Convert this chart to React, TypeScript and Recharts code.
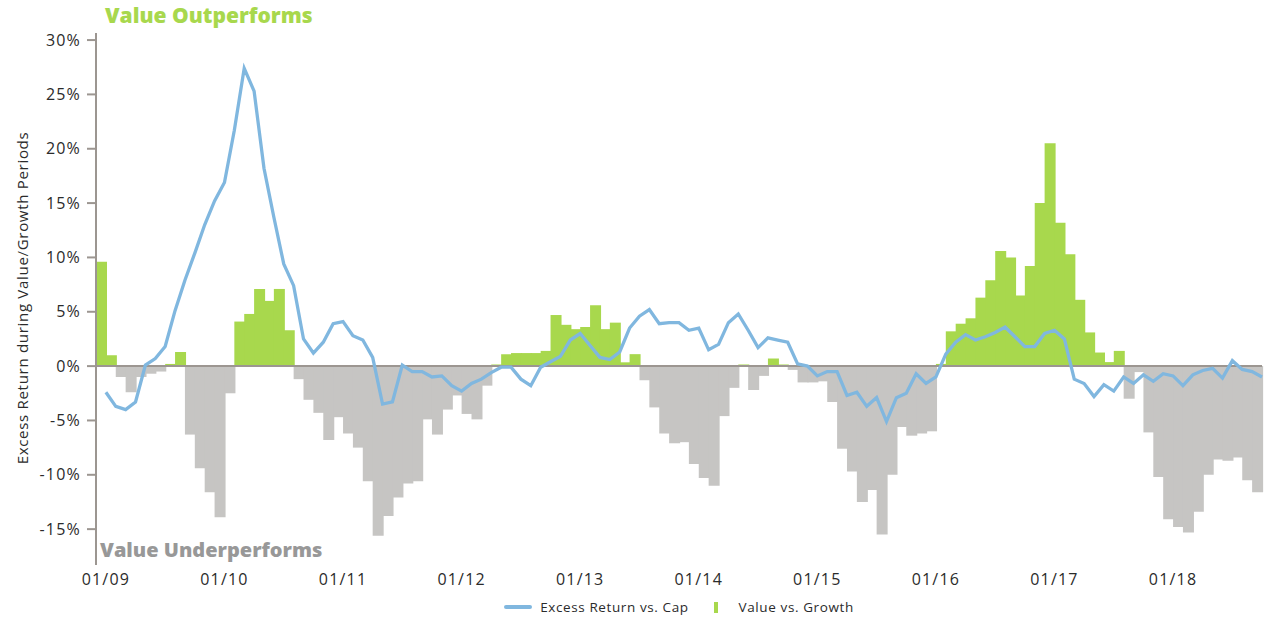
import React from "react";
import {
  ComposedChart,
  Bar,
  Line,
  XAxis,
  YAxis,
  ReferenceLine,
  Legend,
  Cell,
  Rectangle,
} from "recharts";

// monthly, 01/09 .. 10/18
const years = ["09", "10", "11", "12", "13", "14", "15", "16", "17", "18"];

// Value vs. Growth (bars), %
const valueVsGrowth = [
  9.6, 1.0, -1.0, -2.4, -1.0, -0.7, -0.5, 0.2, 1.3, -6.3, -9.4, -11.6, // 2009
  -13.9, -2.5, 4.1, 4.8, 7.1, 6.0, 7.1, 3.3, -1.2, -3.1, -4.3, -6.8, // 2010
  -4.7, -6.2, -7.5, -10.6, -15.6, -13.8, -12.1, -10.8, -10.6, -4.9, -6.3, -4.0, // 2011
  -2.7, -4.4, -4.9, -1.8, 0.15, 1.1, 1.2, 1.2, 1.2, 1.4, 4.7, 3.8, // 2012
  3.4, 3.6, 5.6, 3.4, 4.0, 0.35, 1.1, -1.3, -3.8, -6.2, -7.1, -7.0, // 2013
  -9.0, -10.3, -11.0, -4.6, -2.0, 0.15, -2.2, -0.9, 0.7, 0.15, -0.35, -1.5, // 2014
  -1.5, -1.4, -3.3, -7.6, -9.7, -12.5, -11.4, -15.5, -10.0, -5.6, -6.4, -6.2, // 2015
  -6.0, 0.2, 3.2, 3.9, 4.4, 6.3, 7.9, 10.6, 10.0, 6.5, 9.2, 15.0, // 2016
  20.5, 13.2, 10.3, 6.1, 3.1, 1.25, 0.37, 1.4, -3.0, -0.55, -6.1, -10.2, // 2017
  -14.1, -14.8, -15.3, -13.4, -10.0, -8.6, -8.7, -8.4, -10.5, -11.6, // 2018
];

// Excess Return vs. Cap (line), %
const excessReturn = [
  -2.4, -3.7, -4.0, -3.3, 0.1, 0.7, 1.8, 5.1, 7.9, 10.4, 13.0, 15.2, // 2009
  16.9, 21.7, 27.4, 25.3, 18.2, 13.7, 9.4, 7.4, 2.5, 1.2, 2.2, 3.9, // 2010
  4.1, 2.8, 2.4, 0.8, -3.5, -3.3, 0.1, -0.5, -0.5, -1.0, -0.9, -1.8, // 2011
  -2.3, -1.6, -1.2, -0.6, -0.1, -0.1, -1.2, -1.8, -0.1, 0.4, 0.9, 2.4, // 2012
  3.0, 1.9, 0.8, 0.6, 1.3, 3.5, 4.6, 5.2, 3.9, 4.0, 4.0, 3.3, // 2013
  3.5, 1.5, 2.0, 4.0, 4.8, 3.3, 1.7, 2.6, 2.4, 2.2, 0.2, 0.0, // 2014
  -0.9, -0.5, -0.5, -2.7, -2.4, -3.7, -2.9, -5.1, -2.9, -2.5, -0.7, -1.6, // 2015
  -1.0, 1.1, 2.2, 2.9, 2.4, 2.7, 3.1, 3.6, 2.7, 1.8, 1.8, 3.0, // 2016
  3.3, 2.5, -1.2, -1.6, -2.8, -1.7, -2.3, -1.0, -1.6, -0.8, -1.4, -0.7, // 2017
  -0.9, -1.8, -0.8, -0.4, -0.2, -1.1, 0.5, -0.3, -0.5, -1.0, // 2018
];

const yTicks = [-15, -10, -5, 0, 5, 10, 15, 20, 25, 30];
const xTickLabels = ["01/09", "01/10", "01/11", "01/12", "01/13", "01/14", "01/15", "01/16", "01/17", "01/18"];

const GREEN = "#a8d84d";
const GRAY = "#c6c5c3";
const BLUE = "#80b7df";
const AXIS = "#9c9691";
const TEXT = "#2b2b2b";
const FONT = "'Open Sans', sans-serif";

const data = valueVsGrowth.map((vg, i) => ({
  month: `${String((i % 12) + 1).padStart(2, "0")}/${years[Math.floor(i / 12)]}`,
  pos: i + 1,
  vg,
  er: excessReturn[i],
}));

const xTicks = xTickLabels.map((_, k) => k * 12 + 1);

// bars touch each other in the original, so widen each one a hair
const BarShape = (props: any) => <Rectangle {...props} width={props.width + 1} />;

const tickStyle = { fontSize: 16, fill: TEXT, fontFamily: FONT, letterSpacing: 1.2 };

function LegendContent() {
  return (
    <div
      style={{
        display: "flex",
        justifyContent: "center",
        alignItems: "center",
        height: 20,
        fontFamily: FONT,
        fontSize: 13.5,
        letterSpacing: 0.6,
        color: TEXT,
      }}
    >
      <span style={{ width: 28, height: 4, borderRadius: 2, background: BLUE, marginRight: 8 }} />
      <span>Excess Return vs. Cap</span>
      <span style={{ width: 4, height: 11, background: GREEN, marginLeft: 25, marginRight: 21 }} />
      <span>Value vs. Growth</span>
    </div>
  );
}

export default function App() {
  return (
    <div style={{ position: "absolute", left: 0, top: 0, width: 1268, height: 617, background: "#fff" }}>
      <ComposedChart
        width={1268}
        height={617}
        data={data}
        margin={{ top: 33, right: 6, left: 0, bottom: 0 }}
        barCategoryGap={0}
        barGap={0}
      >
        <XAxis xAxisId="cat" dataKey="month" type="category" hide height={0} />
        <XAxis
          xAxisId="num"
          dataKey="pos"
          type="number"
          domain={[0, valueVsGrowth.length]}
          ticks={xTicks}
          interval={0}
          tickFormatter={(v: number) => data[v - 1].month}
          axisLine={false}
          tickLine={false}
          tickSize={0}
          tickMargin={9}
          height={32}
          tick={tickStyle}
        />
        <YAxis
          domain={[-18.3, 30.65]}
          ticks={yTicks}
          interval={0}
          allowDataOverflow
          tickFormatter={(v: number) => `${v}%`}
          width={96}
          tickSize={9}
          tickMargin={6}
          axisLine={{ stroke: AXIS, strokeWidth: 2 }}
          tickLine={{ stroke: AXIS, strokeWidth: 2 }}
          tick={tickStyle}
        />
        <Bar xAxisId="cat" dataKey="vg" name="Value vs. Growth" isAnimationActive={false} shape={BarShape}>
          {data.map((d) => (
            <Cell key={d.month} fill={d.vg >= 0 ? GREEN : GRAY} />
          ))}
        </Bar>
        <ReferenceLine xAxisId="num" y={0} stroke={AXIS} strokeWidth={2} />
        <Line
          xAxisId="num"
          type="linear"
          dataKey="er"
          name="Excess Return vs. Cap"
          stroke={BLUE}
          strokeWidth={3.3}
          dot={false}
          activeDot={false}
          isAnimationActive={false}
        />
        <Legend
          verticalAlign="bottom"
          height={20}
          wrapperStyle={{ left: 96, width: 1166 }}
          content={() => <LegendContent />}
        />
      </ComposedChart>
      <div
        style={{
          position: "absolute",
          left: 105,
          top: 3,
          fontFamily: FONT,
          fontWeight: 800,
          fontSize: 21,
          lineHeight: "24px",
          color: GREEN,
          whiteSpace: "nowrap",
        }}
      >
        Value Outperforms
      </div>
      <div
        style={{
          position: "absolute",
          left: 100,
          top: 538,
          fontFamily: FONT,
          fontWeight: 800,
          fontSize: 20,
          lineHeight: "24px",
          color: "#989898",
          whiteSpace: "nowrap",
        }}
      >
        Value Underperforms
      </div>
      <div
        style={{
          position: "absolute",
          left: 22,
          top: 298,
          transform: "translate(-50%, -50%) rotate(-90deg)",
          fontFamily: FONT,
          fontSize: 15,
          letterSpacing: 0.7,
          color: TEXT,
          whiteSpace: "nowrap",
        }}
      >
        Excess Return during Value/Growth Periods
      </div>
    </div>
  );
}
